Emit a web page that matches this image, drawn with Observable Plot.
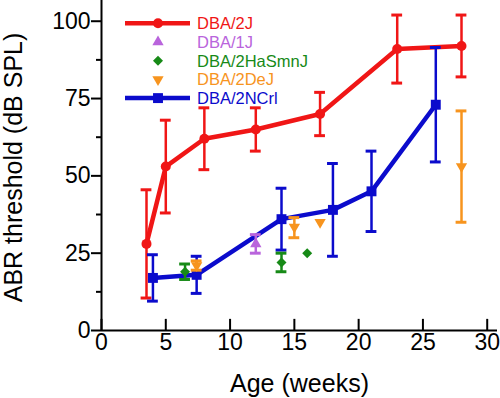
<!DOCTYPE html>
<html><head><meta charset="utf-8">
<script src="https://cdn.jsdelivr.net/npm/d3@7"></script>
<script src="https://cdn.jsdelivr.net/npm/@observablehq/plot@0.6"></script>
<style>
body{margin:0;background:#fff;font-family:"Liberation Sans",Arial,sans-serif;color:#000}
#wrap{position:relative;width:500px;height:398px}
#legend{position:absolute;left:0;top:0;pointer-events:none}
</style></head><body><div id="wrap"></div>
<script>
// Axis ticks
const ageTicks = [0, 5, 10, 15, 20, 25, 30];
const yTicks = [0, 25, 50, 75, 100];
const yMinorTicks = [12.5, 37.5, 62.5, 87.5];
const xTitle = "Age (weeks)";
const yTitle = "ABR threshold (dB SPL)";

// DBA/2J
const d2jAge  = [3.5, 5, 8, 12, 17, 23, 28];
const d2jMean = [28, 53, 62, 65, 70, 91, 92];
const d2jLow  = [10.5, 38, 52, 58, 63, 80, 82];
const d2jHigh = [45.5, 68, 72, 72, 77, 102, 102];
// DBA/1J
const d1jAge  = [12];
const d1jMean = [28];
const d1jLow  = [25];
const d1jHigh = [31];
// DBA/2HaSmnJ
const hasAge  = [6.5, 14, 16];
const hasMean = [19, 22, 25];
const hasLow  = [16.5, 19, 25];
const hasHigh = [21.5, 25, 25];
// DBA/2DeJ
const dejAge  = [7.4, 15, 17, 28];
const dejMean = [21, 33.5, 35, 53];
const dejLow  = [19.5, 30, 35, 35];
const dejHigh = [22.5, 36.5, 35, 71];
// DBA/2NCrl
const ncrAge  = [4, 7.4, 14, 18, 21, 26];
const ncrMean = [17, 18, 36, 39, 45, 73];
const ncrLow  = [9.5, 12, 26, 24, 32, 54.5];
const ncrHigh = [24.5, 24, 46, 54, 58, 91.5];

const series = [
  {name: "DBA/2J", color: "#f01616", symbol: "circle", r: 5, rotate: 0, line: true, age: d2jAge, mean: d2jMean, low: d2jLow, high: d2jHigh},
  {name: "DBA/1J", color: "#b964dc", symbol: "triangle", r: 4.2, rotate: 0, line: false, age: d1jAge, mean: d1jMean, low: d1jLow, high: d1jHigh},
  {name: "DBA/2HaSmnJ", color: "#178a17", symbol: "diamond2", r: 4.5, rotate: 0, line: false, age: hasAge, mean: hasMean, low: hasLow, high: hasHigh},
  {name: "DBA/2DeJ", color: "#f7941e", symbol: "triangle", r: 4.2, rotate: 180, line: false, age: dejAge, mean: dejMean, low: dejLow, high: dejHigh},
  {name: "DBA/2NCrl", color: "#0b0bcc", symbol: "square", r: 5.6, rotate: 0, line: true, age: ncrAge, mean: ncrMean, low: ncrLow, high: ncrHigh}
];
const drawOrder = ["DBA/2J", "DBA/2NCrl", "DBA/1J", "DBA/2HaSmnJ", "DBA/2DeJ"];
const capHalf = 0.42;

const marks = [];
for (const nm of drawOrder) {
  const s = series.find(d => d.name === nm);
  const rows = s.age.map((a, i) => ({age: a, mean: s.mean[i], low: s.low[i], high: s.high[i]}));
  const bars = rows.filter(d => d.high > d.low);
  marks.push(Plot.ruleX(bars, {x: "age", y1: "low", y2: "high", stroke: s.color, strokeWidth: 2.5}));
  marks.push(Plot.ruleY(bars, {y: "low", x1: d => d.age - capHalf, x2: d => d.age + capHalf, stroke: s.color, strokeWidth: 3}));
  marks.push(Plot.ruleY(bars, {y: "high", x1: d => d.age - capHalf, x2: d => d.age + capHalf, stroke: s.color, strokeWidth: 3}));
  if (s.line) marks.push(Plot.line(rows, {x: "age", y: "mean", stroke: s.color, strokeWidth: 4.5}));
  marks.push(Plot.dot(rows, {x: "age", y: "mean", symbol: s.symbol, r: s.r, rotate: s.rotate, fill: s.color, stroke: "none"}));
}

const chart = Plot.plot({
  width: 500, height: 398,
  marginLeft: 101, marginRight: 3, marginTop: 0, marginBottom: 68,
  x: {domain: [0, 30.8], label: null},
  y: {domain: [0, 106.7], label: null},
  style: {fontFamily: "'Liberation Sans', Arial, sans-serif", color: "black", background: "white", overflow: "visible"},
  marks: [
    Plot.axisX(ageTicks, {tickSize: 0, tickPadding: 3, fontSize: 23, label: null}),
    Plot.ruleX(ageTicks, {y1: 0, y2: 3.6, strokeWidth: 2}),
    Plot.axisY(yTicks, {tickSize: 10, tickPadding: 1, fontSize: 23, strokeWidth: 2, label: null}),
    Plot.axisY(yMinorTicks, {tickSize: 5, tickFormat: () => "", strokeWidth: 2, label: null}),
    Plot.ruleY([0], {strokeWidth: 2}),
    Plot.ruleX([0], {strokeWidth: 2}),
    Plot.text([xTitle], {text: d => d, frameAnchor: "bottom", textAnchor: "middle", lineAnchor: "middle", dy: 53, fontSize: 25}),
    Plot.text([yTitle], {text: d => d, frameAnchor: "left", textAnchor: "middle", lineAnchor: "middle", dx: -88, dy: 2, rotate: -90, fontSize: 25}),
    ...marks
  ]
});
const wrap = document.getElementById("wrap");
wrap.appendChild(chart);

// Legend overlay (inside the plot area, top-left)
const leg = d3.select(wrap).append("svg").attr("id", "legend").attr("width", 500).attr("height", 120);
const symMap = {circle: d3.symbolCircle, triangle: d3.symbolTriangle, diamond2: d3.symbolDiamond2, square: d3.symbolSquare};
series.forEach((s, i) => {
  const yy = 23.3 + i * 18.7;
  const g = leg.append("g").attr("transform", `translate(0,${yy})`);
  if (s.line) g.append("line").attr("x1", 125).attr("x2", 190).attr("y1", 0).attr("y2", 0).attr("stroke", s.color).attr("stroke-width", 4.5);
  g.append("path").attr("d", d3.symbol(symMap[s.symbol], Math.PI * s.r * s.r)())
    .attr("transform", `translate(158,0) rotate(${s.rotate})`).attr("fill", s.color);
  g.append("text").attr("x", 197).attr("y", 0).attr("dy", "0.36em").attr("font-size", 16.5)
    .attr("font-family", "'Liberation Sans', Arial, sans-serif").attr("fill", s.color).text(s.name);
});
</script></body></html>
